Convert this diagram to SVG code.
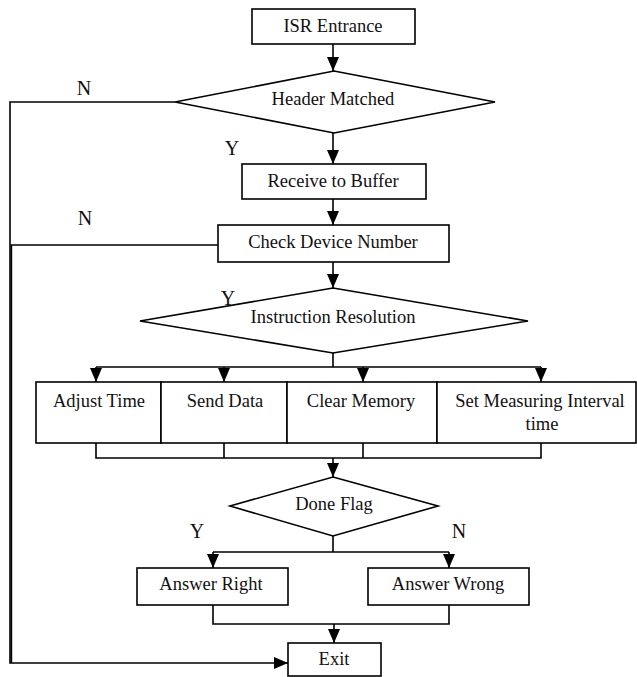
<svg xmlns="http://www.w3.org/2000/svg" width="637" height="677" viewBox="0 0 637 677">
<style>
.b{fill:#fff;stroke:#000;stroke-width:1.6}
.t{font-family:"Liberation Serif","Times New Roman",serif;font-size:18.5px;fill:#111;text-anchor:middle}
.l{font-family:"Liberation Serif","Times New Roman",serif;font-size:20px;fill:#111;text-anchor:middle}
.c{fill:none;stroke:#000;stroke-width:1.6}
</style>
<defs>
<marker id="a" viewBox="0 0 14 12" refX="14" refY="6" markerWidth="14" markerHeight="12" markerUnits="userSpaceOnUse" orient="auto">
<path d="M0,0 L14,6 L0,12 z" fill="#000"/>
</marker>
</defs>
<rect width="637" height="677" fill="#fff"/>
<g id="connectors">
<path class="c" d="M333,44 V71" marker-end="url(#a)"/>
<path class="c" d="M333,133 V164" marker-end="url(#a)"/>
<path class="c" d="M333,199 V225" marker-end="url(#a)"/>
<path class="c" d="M333,262 V288" marker-end="url(#a)"/>
<path class="c" d="M333,353 V367 M96,367 H541"/>
<path class="c" d="M96,367 V382" marker-end="url(#a)"/>
<path class="c" d="M224,367 V382" marker-end="url(#a)"/>
<path class="c" d="M363,367 V382" marker-end="url(#a)"/>
<path class="c" d="M541,367 V382" marker-end="url(#a)"/>
<path class="c" d="M96,443 V458 H541 V443 M224,443 V458 M363,443 V458"/>
<path class="c" d="M333,458 V477" marker-end="url(#a)"/>
<path class="c" d="M333,536 V552 M213,552 H449"/>
<path class="c" d="M213,552 V568" marker-end="url(#a)"/>
<path class="c" d="M449,552 V568" marker-end="url(#a)"/>
<path class="c" d="M213,605 V624 H449 V605"/>
<path class="c" d="M334,624 V643" marker-end="url(#a)"/>
<path class="c" d="M175,102 H10 V663 H288" marker-end="url(#a)"/>
<path class="c" d="M218,245 H11.4 V663"/>
<text class="l" x="84" y="95">N</text>
<text class="l" x="232" y="155">Y</text>
<text class="l" x="85" y="225">N</text>
<text class="l" x="228" y="305">Y</text>
<text class="l" x="197" y="538">Y</text>
<text class="l" x="459" y="538">N</text>
</g>
<g id="isr">
<rect class="b" x="252" y="9" width="163" height="35"/>
<text class="t" x="333" y="32">ISR Entrance</text>
</g>
<g id="header">
<polygon class="b" points="334,71 495,102 334,133 175,102"/>
<text class="t" x="333" y="105">Header Matched</text>
</g>
<g id="receive">
<rect class="b" x="242" y="164" width="184" height="35"/>
<text class="t" x="333" y="187">Receive to Buffer</text>
</g>
<g id="check">
<rect class="b" x="218" y="225" width="231" height="37"/>
<text class="t" x="333" y="248">Check Device Number</text>
</g>
<g id="instruction">
<polygon class="b" points="333,288 528,321 333,353 140,321"/>
<text class="t" x="333" y="323">Instruction Resolution</text>
</g>
<g id="adjust">
<rect class="b" x="36" y="382" width="125" height="61"/>
<text class="t" x="99" y="407">Adjust Time</text>
</g>
<g id="send">
<rect class="b" x="161" y="382" width="126" height="61"/>
<text class="t" x="225" y="407">Send Data</text>
</g>
<g id="clear">
<rect class="b" x="287" y="382" width="150" height="61"/>
<text class="t" x="361" y="407">Clear Memory</text>
</g>
<g id="setinterval">
<rect class="b" x="437" y="382" width="199" height="61"/>
<text class="t" x="540" y="407">Set Measuring Interval</text>
<text class="t" x="542" y="430">time</text>
</g>
<g id="done">
<polygon class="b" points="333,477 438,506 333,536 230,506"/>
<text class="t" x="334" y="510">Done Flag</text>
</g>
<g id="right">
<rect class="b" x="137" y="568" width="151" height="37"/>
<text class="t" x="211" y="590">Answer Right</text>
</g>
<g id="wrong">
<rect class="b" x="368" y="568" width="161" height="37"/>
<text class="t" x="448" y="590">Answer Wrong</text>
</g>
<g id="exit">
<rect class="b" x="288" y="643" width="93" height="33"/>
<text class="t" x="334" y="665">Exit</text>
</g>
</svg>
